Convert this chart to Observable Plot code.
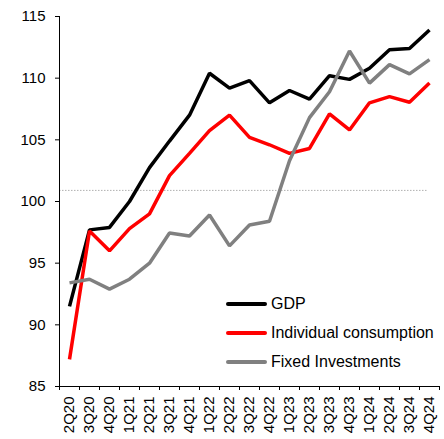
<!DOCTYPE html>
<html>
<head>
<meta charset="utf-8">
<script src="https://cdn.jsdelivr.net/npm/d3@7"></script>
<script src="https://cdn.jsdelivr.net/npm/@observablehq/plot@0.6"></script>
<style>
  html, body { margin: 0; padding: 0; background: #fff; }
  #wrap { position: relative; width: 444px; height: 439px; font-family: "Liberation Sans", Arial, sans-serif; }
  #legend { position: absolute; left: 226px; top: 289px; font-size: 16px; color: #000; }
  .item { display: flex; align-items: center; height: 29px; }
  .swatch { width: 41px; height: 4px; border-radius: 2px; margin-right: 4px; }
</style>
</head>
<body>
<div id="wrap"><div id="legend"></div></div>
<script>
const quarters = ["2Q20","3Q20","4Q20","1Q21","2Q21","3Q21","4Q21","1Q22","2Q22","3Q22","4Q22","1Q23","2Q23","3Q23","4Q23","1Q24","2Q24","3Q24","4Q24"];
const gdp = [91.5, 97.7, 97.9, 100.0, 102.75, 104.9, 107.0, 110.4, 109.2, 109.8, 108.0, 109.0, 108.3, 110.2, 109.9, 110.8, 112.3, 112.4, 113.9];
const consumption = [87.2, 97.6, 96.0, 97.8, 99.0, 102.1, 103.9, 105.75, 107.0, 105.2, 104.6, 103.9, 104.3, 107.1, 105.8, 108.0, 108.5, 108.05, 109.6];
const investments = [93.4, 93.7, 92.9, 93.7, 95.0, 97.45, 97.2, 98.9, 96.4, 98.1, 98.4, 103.3, 106.8, 108.9, 112.2, 109.6, 111.1, 110.35, 111.5];
const seriesNames = ["GDP", "Individual consumption", "Fixed Investments"];
const seriesColors = ["#000000", "#ff0000", "#808080"];
const yTicks = [85, 90, 95, 100, 105, 110, 115];
const refLevel = 100.9;

const seriesValues = [gdp, consumption, investments];
const rows = [];
seriesNames.forEach((name, s) => {
  seriesValues[s].forEach((v, i) => rows.push({series: name, i, q: quarters[i], value: v}));
});
const idx = quarters.map((q, i) => i);
const bounds = d3.range(quarters.length + 1).map(i => i - 0.5);

const chart = Plot.plot({
  width: 444,
  height: 439,
  marginLeft: 59,
  marginRight: 5,
  marginTop: 16,
  marginBottom: 53,
  style: {fontFamily: "Liberation Sans, Arial, sans-serif", fontSize: "15px", color: "#000", background: "#fff"},
  x: {type: "linear", domain: [-0.5, quarters.length - 0.5], axis: null, label: null},
  y: {domain: [85, 115], axis: null, label: null},
  color: {domain: seriesNames, range: seriesColors},
  marks: [
    Plot.ruleY([refLevel], {x1: -0.5, x2: quarters.length - 1.05, stroke: "#b0b0b0", strokeWidth: 1, strokeDasharray: "1.5,1.5"}),
    Plot.axisY(yTicks, {tickSize: 4, tickPadding: 10, fontSize: 15, stroke: "#000", color: "#000", label: null}),
    Plot.axisX(bounds, {tickSize: 4, tickFormat: () => "", stroke: "#000", label: null}),
    Plot.axisX(idx, {tickSize: 0, tickPadding: 10, tickRotate: -90, tickFormat: i => quarters[i], fontSize: 15, color: "#000", label: null}),
    Plot.ruleY([85], {stroke: "#000"}),
    Plot.ruleX([-0.5], {stroke: "#000"}),
    Plot.line(rows, {x: "i", y: "value", z: "series", stroke: "series", strokeWidth: 3.5, strokeLinejoin: "miter", strokeLinecap: "butt"})
  ]
});
document.getElementById("wrap").prepend(chart);

const legend = document.getElementById("legend");
seriesNames.forEach((name, s) => {
  const item = document.createElement("div");
  item.className = "item";
  const sw = document.createElement("div");
  sw.className = "swatch";
  sw.style.background = seriesColors[s];
  const label = document.createElement("span");
  label.textContent = name;
  item.append(sw, label);
  legend.append(item);
});
</script>
</body>
</html>
